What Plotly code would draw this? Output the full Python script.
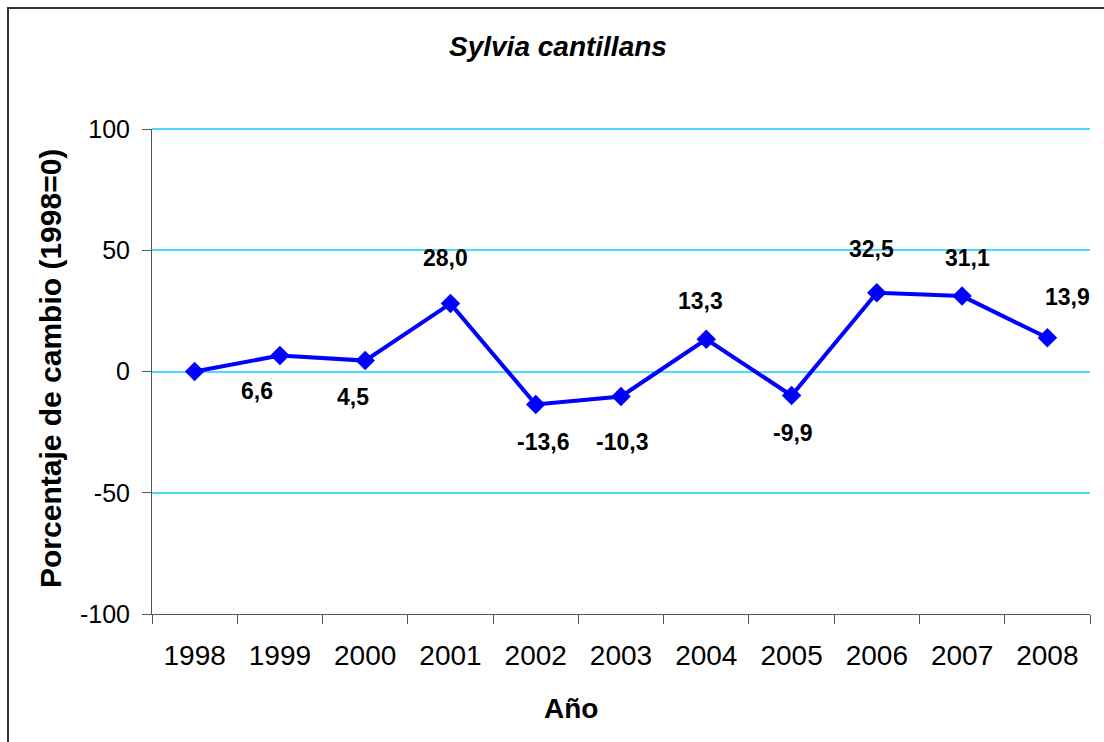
import plotly.graph_objects as go

# Annual change index for Sylvia cantillans, 1998 = 0
years = ["1998", "1999", "2000", "2001", "2002", "2003",
         "2004", "2005", "2006", "2007", "2008"]
change = [0.0, 6.6, 4.5, 28.0, -13.6, -10.3, 13.3, -9.9, 32.5, 31.1, 13.9]
labels = ["", "6,6", "4,5", "28,0", "-13,6", "-10,3",
          "13,3", "-9,9", "32,5", "31,1", "13,9"]
y_ticks = [-100, -50, 0, 50, 100]
y_tick_text = ["-100", "-50", "0", "50", "100"]

# pixel nudges for each value label (x, y)
label_shift = [(0, 0), (-23, -36), (-12, -36), (-5, 46), (7, -38), (1, -46),
               (-6, 38), (1, -37), (-5, 44), (5, 38), (20, 41)]

FONT = "Liberation Sans, Arial"
GRID = "#4CD9FF"

fig = go.Figure()
fig.add_trace(go.Scatter(
    x=years, y=change, mode="lines+markers",
    line=dict(color="#0000FF", width=4),
    marker=dict(symbol="diamond", size=15, color="#0000FF"),
    showlegend=False, hoverinfo="skip",
))

# value labels (category axis: x given as category index)
for i, (val, txt, (dx, dy)) in enumerate(zip(change, labels, label_shift)):
    if not txt:
        continue
    fig.add_annotation(
        x=i, y=val, xref="x", yref="y", text=f"<b>{txt}</b>", showarrow=False,
        xshift=dx, yshift=dy, xanchor="center", yanchor="middle",
        font=dict(family=FONT, size=23, color="#000000"),
    )

# chart and axis titles
fig.add_annotation(
    xref="paper", yref="paper", x=(558 - 152) / 938, y=1 + (129 - 47) / 485,
    xanchor="center", yanchor="middle",
    text="<b><i>Sylvia cantillans</i></b>", showarrow=False,
    font=dict(family=FONT, size=28, color="#000000"),
)
fig.add_annotation(
    xref="paper", yref="paper", x=(571 - 152) / 938, y=-(708 - 614) / 485,
    xanchor="center", yanchor="middle",
    text="<b>Año</b>", showarrow=False,
    font=dict(family=FONT, size=28, color="#000000"),
)
fig.add_annotation(
    xref="paper", yref="paper", x=(50 - 152) / 938, y=(614 - 369) / 485,
    xanchor="center", yanchor="middle",
    text="<b>Porcentaje de cambio (1998=0)</b>", showarrow=False, textangle=-90,
    font=dict(family=FONT, size=30, color="#000000"),
)

# gridline along the top edge (y = 100) of the plot area
fig.add_shape(
    type="line", xref="paper", yref="paper", x0=0, x1=1, y0=1, y1=1,
    line=dict(color=GRID, width=2), layer="above",
)

# outer frame
fig.add_shape(
    type="rect", xref="paper", yref="paper",
    x0=(8 - 152) / 938, x1=(1115 - 152) / 938,
    y0=-(760 - 614) / 485, y1=1 + (129 - 8) / 485,
    line=dict(color="#333333", width=2), fillcolor="rgba(0,0,0,0)", layer="below",
)

fig.update_layout(
    width=1104, height=742,
    margin=dict(l=152, r=14, t=129, b=128),
    paper_bgcolor="white", plot_bgcolor="white",
    font=dict(family=FONT, color="#000000"),
    xaxis=dict(
        type="category", tickson="boundaries", ticks="outside", ticklen=9,
        tickcolor="#555555", showline=True, linecolor="#555555", linewidth=1,
        showgrid=False, tickfont=dict(size=28), ticklabelstandoff=16,
        range=[-0.5, 10.5],
    ),
    yaxis=dict(
        range=[-100, 100], tickvals=y_ticks, ticktext=y_tick_text,
        ticks="outside", ticklen=9,
        tickcolor="#555555", showline=True, linecolor="#555555", linewidth=1,
        showgrid=True, gridcolor=GRID, gridwidth=2, zeroline=False,
        tickfont=dict(size=25), ticklabelstandoff=7,
    ),
)

fig.write_html("out.html")
